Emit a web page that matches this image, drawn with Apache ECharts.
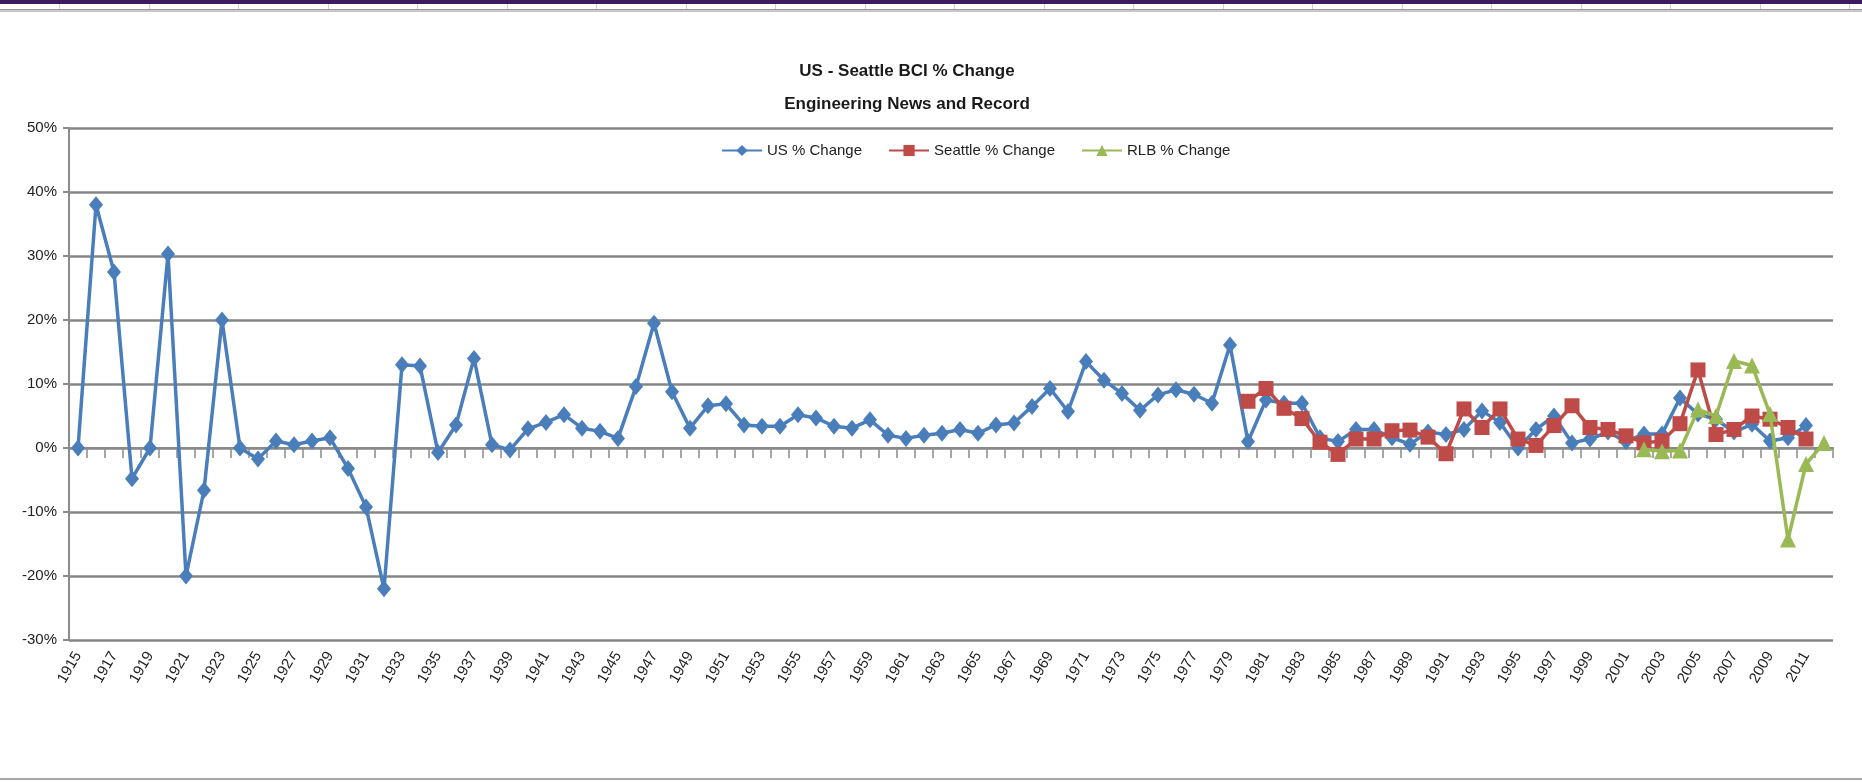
<!DOCTYPE html>
<html>
<head>
<meta charset="utf-8">
<script src="https://cdn.jsdelivr.net/npm/echarts@6/dist/echarts.min.js"></script>
<style>
html,body{margin:0;padding:0;background:#fff;}
#chart{width:1862px;height:782px;}
</style>
</head>
<body>
<div id="chart"></div>
<script>
var years = ['1915','1916','1917','1918','1919','1920','1921','1922','1923','1924','1925','1926','1927','1928','1929','1930','1931','1932','1933','1934','1935','1936','1937','1938','1939','1940','1941','1942','1943','1944','1945','1946','1947','1948','1949','1950','1951','1952','1953','1954','1955','1956','1957','1958','1959','1960','1961','1962','1963','1964','1965','1966','1967','1968','1969','1970','1971','1972','1973','1974','1975','1976','1977','1978','1979','1980','1981','1982','1983','1984','1985','1986','1987','1988','1989','1990','1991','1992','1993','1994','1995','1996','1997','1998','1999','2000','2001','2002','2003','2004','2005','2006','2007','2008','2009','2010','2011','2012'];

// US % Change, 1915..2011
var usChange = [0,38,27.5,-4.8,0,30.3,-20,-6.6,20,0,-1.7,1.1,0.5,1.1,1.6,-3.2,-9.2,-22,13,12.8,-0.7,3.6,14,0.5,-0.3,3,4,5.2,3.1,2.6,1.5,9.6,19.5,8.8,3.1,6.6,6.9,3.6,3.4,3.4,5.2,4.7,3.4,3.1,4.4,2.0,1.5,2.0,2.3,2.9,2.3,3.6,3.9,6.5,9.3,5.7,13.5,10.6,8.5,5.9,8.3,9.1,8.4,7.0,16.1,1.0,7.5,7.0,7.0,1.6,1.0,2.9,2.9,1.6,0.6,2.5,2.1,2.9,5.8,4.0,0,2.9,5.0,0.8,1.4,2.5,1.0,2.2,2.2,7.8,5.3,4.5,2.5,3.7,1.1,1.6,3.5];
var usStart = '1915';

// Seattle % Change, 1980..2011
var seattleChange = [7.3,9.3,6.2,4.6,0.9,-1.0,1.4,1.4,2.7,2.8,1.7,-0.9,6.1,3.2,6.1,1.4,0.4,3.5,6.6,3.2,2.9,1.9,0.8,1.1,3.8,12.2,2.1,2.9,5.0,4.5,3.2,1.4];
var seattleStart = '1980';

// RLB % Change, 2002..2012
var rlbChange = [-0.2,-0.5,-0.4,6.0,5.0,13.6,12.9,5.3,-14.3,-2.5,0.8];
var rlbStart = '2002';

var yTicks = {min:-30, max:50, step:10};

function align(values, start){
  var off = years.indexOf(start);
  return years.map(function(y,i){
    var k = i - off;
    return (k >= 0 && k < values.length) ? values[k] : null;
  });
}

var FONT = '"Liberation Sans Narrow","Liberation Sans",sans-serif';
var chart = echarts.init(document.getElementById('chart'), null, {renderer:'canvas'});

var seps = [];
for (var sx = 59; sx < 1862; sx += 89.5) {
  seps.push({type:'rect', shape:{x:Math.round(sx), y:4, width:1, height:5}, style:{fill:'#c8d0dc'}, silent:true});
}

chart.setOption({
  animation:false,
  backgroundColor:'#ffffff',
  graphic: [
    {type:'rect', shape:{x:0,y:0,width:1862,height:4}, style:{fill:'#3d1b5e'}, silent:true},
    {type:'rect', shape:{x:0,y:9,width:1862,height:1}, style:{fill:'#9a9a9a'}, silent:true},
    {type:'rect', shape:{x:0,y:10,width:1862,height:2}, style:{fill:'#c8c8c8'}, silent:true},
    {type:'rect', shape:{x:0,y:778,width:1862,height:2}, style:{fill:'#a8a8a8'}, silent:true}
  ].concat(seps),
  title: {
    text: 'US - Seattle BCI % Change\nEngineering News and Record',
    left: 902, top: 50, textAlign:'center',
    textStyle: {fontFamily:FONT, fontWeight:'bold', fontSize:17, color:'#1a1a1a', lineHeight:33}
  },
  legend: {
    left: 716, top: 138,
    itemWidth: 40, itemHeight: 14, itemGap: 26,
    textStyle: {fontFamily:FONT, fontSize:15, color:'#222'},
    data: ['US % Change','Seattle % Change','RLB % Change']
  },
  grid: {left:69, right:29, top:128, bottom:142, containLabel:false},
  xAxis: [
    {
      type:'category', data:years, boundaryGap:true, position:'bottom',
      axisLine:{show:true, onZero:true, lineStyle:{color:'#8a8a8a', width:2}},
      axisTick:{show:true, interval:0, length:10, lineStyle:{color:'#8a8a8a', width:1.5}},
      axisLabel:{show:false},
      splitLine:{show:false}
    },
    {
      type:'category', data:years, boundaryGap:true, position:'bottom',
      axisLine:{show:false, onZero:false},
      axisTick:{show:false},
      axisLabel:{show:true, interval:1, rotate:60, margin:13, fontFamily:FONT, fontSize:15, color:'#222'},
      splitLine:{show:false}
    }
  ],
  yAxis: {
    type:'value', min:yTicks.min, max:yTicks.max, interval:yTicks.step,
    axisLine:{show:true, lineStyle:{color:'#8a8a8a', width:2}},
    axisTick:{show:true, length:6, lineStyle:{color:'#8a8a8a', width:2}},
    axisLabel:{formatter:'{value}%', fontFamily:FONT, fontSize:15, color:'#222', margin:12},
    splitLine:{show:true, lineStyle:{color:'#868686', width:2.5}}
  },
  series: [
    {
      name:'US % Change', type:'line', xAxisIndex:0, data:align(usChange, usStart),
      symbol:'diamond', symbolSize:[14,17], showAllSymbol:true,
      lineStyle:{color:'#4a7ebb', width:3.5},
      itemStyle:{color:'#4a7ebb'}, z:2
    },
    {
      name:'Seattle % Change', type:'line', xAxisIndex:0, data:align(seattleChange, seattleStart),
      symbol:'rect', symbolSize:15, showAllSymbol:true,
      lineStyle:{color:'#be4b48', width:3.5},
      itemStyle:{color:'#be4b48'}, z:3
    },
    {
      name:'RLB % Change', type:'line', xAxisIndex:0, data:align(rlbChange, rlbStart),
      symbol:'triangle', symbolSize:16, showAllSymbol:true,
      lineStyle:{color:'#98b954', width:3.5},
      itemStyle:{color:'#98b954'}, z:4
    }
  ]
});
</script>
</body>
</html>
